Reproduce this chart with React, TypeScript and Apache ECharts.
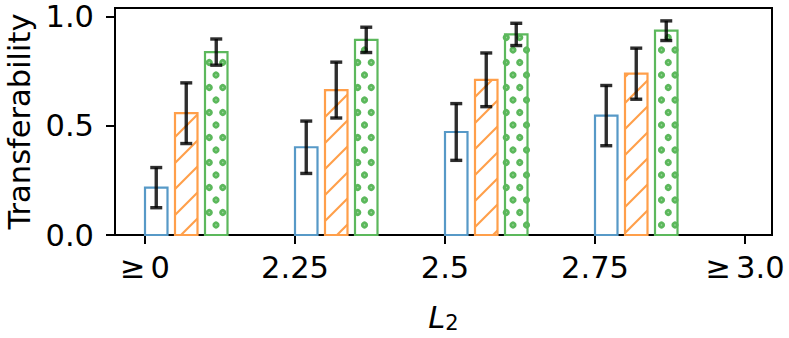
import React, { useEffect, useRef } from "react";
import * as echarts from "echarts";

// ---- data ----
const categories = ["≥0", "2.25", "2.5", "2.75", "≥3.0"];
const yTickValues = [0, 0.5, 1.0];

const blueValues = [0.217, 0.402, 0.472, 0.547];
const blueErrors = [0.092, 0.12, 0.13, 0.138];
const orangeValues = [0.558, 0.664, 0.711, 0.739];
const orangeErrors = [0.139, 0.128, 0.123, 0.117];
const greenValues = [0.838, 0.894, 0.919, 0.936];
const greenErrors = [0.06, 0.058, 0.051, 0.045];

// ---- style ----
const BLUE = "#5799c7";
const ORANGE = "#ff9f4a";
const GREEN = "#5cb85c";
const BAR_W = 0.15;
const FONT = "DejaVu Sans";
const FS = 30.5;

type Pattern = "none" | "hatch" | "dots";

function barSeries(name: string, values: number[], offset: number, color: string, pattern: Pattern) {
  return {
    type: "custom",
    name,
    clip: false,
    data: values.map((v, i) => [i, v]),
    renderItem: (params: any, api: any) => {
      const x = api.value(0);
      const v = api.value(1);
      const p0 = api.coord([x + offset, v]);
      const p1 = api.coord([x + offset + BAR_W, 0]);
      const x0 = p0[0], y0 = p0[1], x1 = p1[0], y1 = p1[1];
      const children: any[] = [];
      children.push({
        type: "rect",
        shape: { x: x0, y: y0, width: x1 - x0, height: y1 - y0 },
        style: { fill: "#fff", stroke: "none" },
      });
      if (pattern === "hatch") {
        const s = 26;
        const cStart = Math.ceil((x0 + y0) / s) * s;
        for (let c = cStart; c <= x1 + y1; c += s) {
          const xa = Math.max(x0, c - y1);
          const xb = Math.min(x1, c - y0);
          if (xb - xa > 0.5) {
            children.push({
              type: "line",
              shape: { x1: xa, y1: c - xa, x2: xb, y2: c - xb },
              style: { stroke: color, lineWidth: 2.2 },
            });
          }
        }
      } else if (pattern === "dots") {
        const dx = 13.5;
        const dy = 12.5;
        const rStart = Math.floor(y0 / dy);
        for (let r = rStart; r * dy <= y1; r++) {
          const cy = r * dy;
          if (cy < y0 + 1 || cy > y1 - 1) continue;
          const shift = r % 2 === 0 ? 0 : dx / 2;
          const kStart = Math.floor((x0 - shift) / dx);
          for (let k = kStart; k * dx + shift <= x1; k++) {
            const cx = k * dx + shift;
            if (cx < x0 + 1 || cx > x1 - 1) continue;
            children.push({
              type: "circle",
              shape: { cx, cy, r: 2.2 },
              style: { fill: "#9fd69f", stroke: color, lineWidth: 2.8 },
            });
          }
        }
      }
      children.push({
        type: "rect",
        shape: { x: x0, y: y0, width: x1 - x0, height: y1 - y0 },
        style: { fill: "none", stroke: color, lineWidth: 2.2 },
      });
      return { type: "group", children };
    },
    z: 2,
  };
}

function errSeries(name: string, values: number[], errors: number[], offset: number) {
  return {
    type: "custom",
    name,
    clip: false,
    data: values.map((v, i) => [i, v, errors[i]]),
    renderItem: (params: any, api: any) => {
      const x = api.value(0) + offset + BAR_W / 2;
      const v = api.value(1);
      const e = api.value(2);
      const top = api.coord([x, v + e]);
      const bot = api.coord([x, v - e]);
      const cap = 6;
      const st = { stroke: "rgba(0,0,0,0.82)", lineWidth: 3.4 };
      return {
        type: "group",
        children: [
          { type: "line", shape: { x1: top[0], y1: top[1], x2: bot[0], y2: bot[1] }, style: st },
          { type: "line", shape: { x1: top[0] - cap, y1: top[1], x2: top[0] + cap, y2: top[1] }, style: st },
          { type: "line", shape: { x1: bot[0] - cap, y1: bot[1], x2: bot[0] + cap, y2: bot[1] }, style: st },
        ],
      };
    },
    z: 3,
  };
}

function tickLabel(v: number): string {
  const s = categories[Math.round(v)] ?? "";
  if (s.startsWith("≥")) return "{g|≥}{t|" + s.slice(1) + "}";
  return "{t|" + s + "}";
}

export default function App() {
  const ref = useRef<HTMLDivElement>(null);
  useEffect(() => {
    if (!ref.current) return;
    const chart = echarts.init(ref.current, undefined, { renderer: "svg" });
    chart.setOption({
      animation: false,
      backgroundColor: "#fff",
      textStyle: { fontFamily: FONT },
      grid: {
        left: 115,
        right: 17,
        top: 8,
        bottom: 103,
        show: true,
        borderColor: "#000",
        borderWidth: 2,
        backgroundColor: "transparent",
        outerBoundsMode: "none",
      },
      xAxis: {
        type: "value",
        min: -0.2,
        max: 4.18,
        name: "{i|L}{s|2}",
        nameLocation: "middle",
        nameGap: 66,
        nameTextStyle: {
          rich: {
            i: { fontFamily: FONT, fontStyle: "italic", fontSize: FS, color: "#000", lineHeight: 32 },
            s: { fontFamily: FONT, fontSize: 21, color: "#000", verticalAlign: "bottom", lineHeight: 14 },
          },
        },
        splitLine: { show: false },
        axisLine: { show: true, onZero: false, lineStyle: { color: "#000", width: 2 } },
        axisTick: { show: true, length: 9, lineStyle: { color: "#000", width: 2 }, customValues: [0, 1, 2, 3, 4] },
        axisLabel: {
          customValues: [0, 1, 2, 3, 4],
          formatter: tickLabel,
          color: "#000",
          fontSize: FS,
          fontFamily: FONT,
          margin: 17,
          rich: {
            g: { fontFamily: FONT, fontSize: FS, color: "#000", padding: [0, 5, 0, 0] },
            t: { fontFamily: FONT, fontSize: FS, color: "#000" },
          },
        },
      },
      yAxis: {
        type: "value",
        min: 0,
        max: 1.04,
        name: "Transferability",
        nameLocation: "middle",
        nameGap: 80,
        nameTextStyle: { fontSize: FS, color: "#000", fontFamily: FONT },
        splitLine: { show: false },
        axisLine: { show: true, onZero: false, lineStyle: { color: "#000", width: 2 } },
        axisTick: { show: true, length: 9, lineStyle: { color: "#000", width: 2 }, customValues: yTickValues },
        axisLabel: {
          customValues: yTickValues,
          formatter: (v: number) => v.toFixed(1),
          color: "#000",
          fontSize: FS,
          fontFamily: FONT,
          margin: 21,
        },
      },
      series: [
        barSeries("blue", blueValues, 0, BLUE, "none"),
        barSeries("orange", orangeValues, 0.2, ORANGE, "hatch"),
        barSeries("green", greenValues, 0.4, GREEN, "dots"),
        errSeries("blue err", blueValues, blueErrors, 0),
        errSeries("orange err", orangeValues, orangeErrors, 0.2),
        errSeries("green err", greenValues, greenErrors, 0.4),
      ],
    });
    return () => chart.dispose();
  }, []);
  return (
    <div
      ref={ref}
      style={{ position: "fixed", left: 0, top: 0, width: 789, height: 338, background: "#fff" }}
    />
  );
}
